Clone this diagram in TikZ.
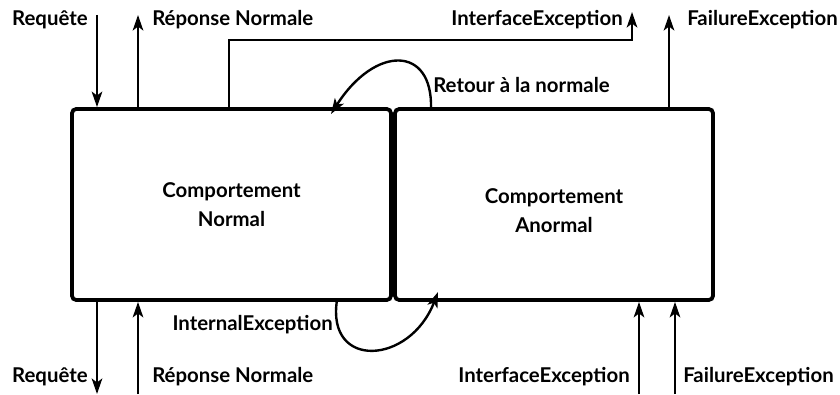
\documentclass[tikz,border=0pt]{standalone}
\usepackage{fontspec}
\setmainfont{Lato}
\usetikzlibrary{arrows.meta}

\begin{document}
\begin{tikzpicture}[x=0.025cm,y=-0.025cm,>={Stealth[length=11pt,width=7.5pt,inset=2.8pt]}]
% --- styles ---------------------------------------------------
\tikzstyle{bloc}  =[draw,line width=2.7pt,rounded corners=3pt,font=\fontsize{14.5}{21}\selectfont\bfseries,align=center,inner sep=0pt]
\tikzstyle{flux}  =[line width=1.7pt]
\tikzstyle{etiq}  =[font=\fontsize{14.5}{17}\selectfont\bfseries,inner sep=0pt]

\useasboundingbox (0,0) rectangle (840,394);

% --- the two behaviours ---------------------------------------
\node[bloc,minimum width=319*0.025cm,minimum height=191*0.025cm] (normal) at (231.5,204.5) {Comportement\\Normal};
\node[bloc,minimum width=318*0.025cm,minimum height=191*0.025cm] (anormal) at (554,204.5) {\rule{0pt}{19pt}Comportement\\Anormal};

% --- free ends, top -------------------------------------------
\coordinate (reqh)   at (97,15);
\coordinate (reph)   at (138,15);
\coordinate (itfh)   at (632,12);
\coordinate (itfb)   at (229,40);
\coordinate (failh)  at (669,15);

% --- free ends, bottom ----------------------------------------
\coordinate (reqb)   at (97,394);
\coordinate (repb)   at (138,394);
\coordinate (itfbas) at (639,394);
\coordinate (failb)  at (675,394);

% --- top arrows -----------------------------------------------
\draw[flux,->] (reqh) -- (reqh |- normal.north);
\draw[flux,->] (reph |- normal.north) -- (reph);
\draw[flux,->] (itfb |- normal.north) -- (itfb) -- (itfb -| itfh) -- (itfh);
\draw[flux,->] (failh |- anormal.north) -- (failh);

\node[etiq,anchor=east] (lreqh)  at (88,20)  {Requête};
\node[etiq,anchor=west] (lreph)  at (152,20) {Réponse Normale};
\node[etiq,anchor=east] (litfh)  at (623,20) {InterfaceException};
\node[etiq,anchor=west] (lfailh) at (687,20) {FailureException};

% --- bottom arrows --------------------------------------------
\draw[flux,->] (reqb |- normal.south) -- (reqb);
\draw[flux,->] (repb) -- (repb |- normal.south);
\draw[flux,->] (itfbas) -- (itfbas |- anormal.south);
\draw[flux,->] (failb) -- (failb |- anormal.south);

\node[etiq,anchor=east] (lreqb)  at (88,377)  {Requête};
\node[etiq,anchor=west] (lrepb)  at (152,377) {Réponse Normale};
\node[etiq,anchor=east] (litfb)  at (630,377) {InterfaceException};
\node[etiq,anchor=west] (lfailb) at (683,377) {FailureException};

% --- switching between the behaviours -------------------------
\coordinate (retdep) at (431,109);
\coordinate (intdep) at (337,300);
\draw[flux,->] (retdep) .. controls (433,45) and (375,45) .. (331,114);
\draw[flux,->] (intdep) .. controls (326,370) and (410,365) .. (438,292);

\node[etiq,anchor=west] (lret) at (433,85)  {Retour à la normale};
\node[etiq,anchor=east] (lint) at (333,325) {InternalException};

\end{tikzpicture}
\end{document}
